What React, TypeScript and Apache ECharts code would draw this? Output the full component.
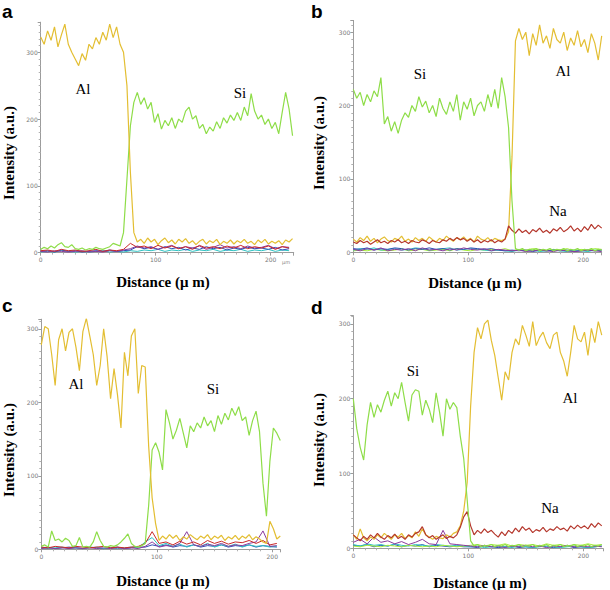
import React, { useEffect, useRef } from "react";
import * as echarts from "echarts";

// ---- sampling steps (µm) ----
const STEP_MAIN = 3;
const STEP_MINOR = 6;

// ---- Panel a ----
const A_AL = [323,312,332,318,338,308,326,342,312,300, 290,280,298,288,312,305,322,312,330,318, 342,322,338,312,300,250,120,30,16,20, 14,22,16,20,12,18,22,15,19,13, 20,16,21,14,18,12,17,20,13,18, 15,20,12,17,14,19,13,18,15,20, 14,17,12,19,15,20,13,17,14,18, 12,19,16,21];
const A_SI = [5,8,6,10,7,12,15,9,8,12, 6,5,7,4,6,5,8,6,5,7, 9,14,12,10,30,110,190,225,240,222, 232,215,225,195,208,185,198,190,202,186, 200,195,212,218,200,205,186,192,178,188, 182,196,186,202,194,206,198,210,198,218, 205,238,212,200,206,192,200,186,195,178, 210,240,215,175];
const A_RED = [3,4,2,5,3,4,2,3,5,2, 4,3,5,14,8,10,6,11,7,10, 6,9,5,11,7,9,6,10,7,11, 6,9,7,10,5,9,7];
const A_BLUE = [2,3,1,4,2,3,1,2,3,2, 4,2,3,4,9,6,8,5,9,6, 8,4,7,5,9,6,8,4,7,5, 8,6,7,5,8,4,6];
const A_CYAN = [1,2,1,3,2,1,2,1,2,3, 1,2,1,3,2,4,3,5,2,4, 3,5,2,4,3,5,2,4,3,5, 2,4,3,5,2,4,3];
const A_PURPLE = [2,1,3,2,1,2,3,1,2,1, 3,2,4,6,10,7,9,5,8,11, 6,9,7,10,5,8,12,7,9,6, 10,7,8,11,6,9,8];

// ---- Panel b ----
const B_SI = [222,210,218,200,215,205,220,212,238,175, 185,165,178,162,180,190,184,200,192,212, 198,206,190,200,185,210,196,188,205,192, 215,180,205,195,210,186,200,205,192,215, 198,222,196,238,212,170,70,5,3,5, 2,4,3,5,2,4,3,5,2,4, 3,5,2,4,3,5,2,4,3,5, 2,4,3];
const B_AL = [18,14,20,16,22,15,19,13,18,21, 16,14,19,17,22,15,18,14,20,16, 19,15,21,17,14,19,16,22,18,15, 20,17,21,16,19,14,22,18,16,20, 15,19,17,16,18, 28,130,288,305,290, 300,268,298,282,310,285,295,278,305,290, 285,300,275,292,282,302,280,290,272,298, 285,262,295];
const B_NA = [14,12,16,13,15,11,14,17,13,15, 12,16,14,17,13,15,12,16,14,13, 17,15,12,16,14,13,17,15,19,16, 20,17,19,15,18,14,17,13,16,14, 17,13,16,14,18,36,30,26,32,27, 30,25,31,28,33,27,30,26,32,29, 34,28,31,36,29,33,28,35,30,38, 32,37,33];
const B_BLUE = [5,4,6,3,5,4,6,5,3,5, 4,6,4,5,3,5,4,6,5,4, 5,3,2,3,2,3,1,3,2,3, 2,3,1,2,3,2,3];
const B_CYAN = [3,5,4,6,3,4,5,3,4,6, 5,3,4,5,6,3,4,5,4,3, 2,3,2,1,3,2,3,1,2,3, 2,1,3,2,1,3,2];
const B_LGREEN = [2,3,2,4,3,2,3,5,2,3, 4,2,3,4,2,5,3,2,4,3, 4,3,5,2,4,3,5,4,2,4, 3,5,2,4,3,5,4];
const B_PURPLE = [4,2,5,3,6,2,4,3,5,2, 6,3,4,2,5,3,6,4,3,5, 2,4,3,2,3,1,2,3,2,1, 3,2,1,2,3,2,1];

// ---- Panel c ----
const C_SI = [4,6,3,25,12,14,10,15,12,4, 5,16,3,4,3,10,24,12,4,3, 5,4,6,10,15,21,8,4,3,5, 8,60,135,145,132,108,190,172,150,162, 178,158,138,168,160,172,165,180,168,175, 160,182,170,185,176,192,182,194,175,180, 155,175,188,160,90,45,120,165,158,148];
const C_AL = [278,303,300,265,223,285,300,270,295,300, 275,243,296,314,290,265,223,250,300,262, 205,246,210,165,268,236,290,300,212,250, 248,140,70,35,12,18,14,20,15,19, 12,17,14,20,16,13,18,15,20,13, 18,15,19,12,17,14,19,13,18,15, 20,13,17,14,10,8,38,28,14,18];
const C_RED = [3,2,4,3,2,4,3,2,3,4, 2,3,2,3,4,8,24,8,10,6, 11,7,10,6,12,8,11,7,10,9, 12,8,12,6,8];
const C_PURPLE = [1,2,1,2,1,2,1,2,1,2, 1,2,1,2,1,4,10,3,5,4, 8,24,6,4,7,5,8,4,6,5, 8,10,25,4,5];
const C_CYAN = [2,1,2,3,1,2,1,2,3,1, 2,1,2,3,2,10,16,5,8,4, 7,3,6,4,8,3,6,4,7,3, 6,4,5,3,4];
const C_BLUE = [2,3,1,2,3,2,1,3,2,1, 2,3,1,2,3,3,6,4,6,3, 5,4,6,3,5,4,6,3,5,4, 6,3,5,4,3];

// ---- Panel d ----
const D_SI = [200,160,135,118,165,195,175,192,182,198, 210,190,208,200,222,195,170,205,212,210, 178,198,186,168,208,182,150,200,186,195, 188,150,120,65,10,3,5,2,4,3, 5,2,4,3,5,2,4,3,5,2, 4,3,5,2,4,3,5,2,4,3, 5,2,4,3,5,2,4,3,5,2, 4,3,5];
const D_AL = [18,12,26,14,10,15,12,18,14,20, 16,12,18,15,20,13,17,14,22,16, 26,18,15,12,16,14,13,18,15,20, 22,30,50,88,190,262,295,280,300,305, 278,258,228,198,236,225,262,280,272,298, 285,270,303,271,282,289,275,267,285,289, 262,250,230,262,298,280,276,289,258,294, 275,303,285];
const D_NA = [18,14,10,16,12,18,14,20,15,12, 17,14,19,13,16,12,18,15,20,22, 29,18,14,17,12,15,18,13,16,14, 18,28,42,49,30,18,24,20,26,21, 24,19,15,22,17,24,20,27,22,29, 24,27,21,25,23,28,22,26,24,29, 25,27,23,30,26,31,27,30,26,33, 28,34,30];
const D_PURPLE = [8,12,6,15,8,10,6,9,5,8, 12,6,5,24,6,5,4,3,2,4, 2,3,1,3,2,4,2,3,1,3, 2,4,2,3,2,3,2];
const D_CYAN = [5,3,6,4,5,3,6,4,3,5, 4,3,5,4,3,4,3,2,3,1, 2,3,2,1,3,2,1,2,3,2, 1,2,3,2,1,2,3];
const D_LGREEN = [3,2,4,3,2,4,3,2,4,3, 2,3,2,4,3,2,3,4,5,3, 5,4,6,3,5,4,5,3,6,4, 5,3,5,4,6,4,5];
const D_BLUE = [4,3,5,2,4,3,5,2,4,3, 5,2,4,3,2,3,2,2,1,3, 2,1,2,3,1,2,1,3,2,1, 2,3,1,2,1,2,3];

const Y_TICKS = ["0", "100", "200", "300"];

const COL = {
  al: "#E3BE32",
  si: "#8EDD48",
  na: "#B5372C",
  red: "#C92A2A",
  blue: "#2F4DB5",
  cyan: "#2EC2C2",
  purple: "#8A3B9D",
  lgreen: "#A6EE3A",
};

const pairs = (vals: number[], step: number) => vals.map((v, i) => [i * step, v]);

type Panel = {
  grid: { left: number; top: number; width: number; height: number };
  xMax: number;
  yMax: number;
  series: { data: number[]; step: number; color: string; width: number }[];
};

const PANELS: Panel[] = [
  {
    grid: { left: 40.7, top: 22.2, width: 253, height: 230.5 },
    xMax: 220,
    yMax: 345,
    series: [
      { data: A_CYAN, step: STEP_MINOR, color: COL.cyan, width: 1 },
      { data: A_BLUE, step: STEP_MINOR, color: COL.blue, width: 1 },
      { data: A_PURPLE, step: STEP_MINOR, color: COL.purple, width: 1 },
      { data: A_RED, step: STEP_MINOR, color: COL.red, width: 1 },
      { data: A_SI, step: STEP_MAIN, color: COL.si, width: 1.2 },
      { data: A_AL, step: STEP_MAIN, color: COL.al, width: 1.2 },
    ],
  },
  {
    grid: { left: 353.3, top: 20.4, width: 248.4, height: 231.9 },
    xMax: 216,
    yMax: 316,
    series: [
      { data: B_LGREEN, step: STEP_MINOR, color: COL.lgreen, width: 1 },
      { data: B_CYAN, step: STEP_MINOR, color: COL.cyan, width: 1 },
      { data: B_BLUE, step: STEP_MINOR, color: COL.blue, width: 1 },
      { data: B_PURPLE, step: STEP_MINOR, color: COL.purple, width: 1 },
      { data: B_AL, step: STEP_MAIN, color: COL.al, width: 1.2 },
      { data: B_NA, step: STEP_MAIN, color: COL.na, width: 1.2 },
      { data: B_SI, step: STEP_MAIN, color: COL.si, width: 1.2 },
    ],
  },
  {
    grid: { left: 41.3, top: 319.2, width: 239, height: 230.1 },
    xMax: 207,
    yMax: 313,
    series: [
      { data: C_BLUE, step: STEP_MINOR, color: COL.blue, width: 1 },
      { data: C_CYAN, step: STEP_MINOR, color: COL.cyan, width: 1 },
      { data: C_PURPLE, step: STEP_MINOR, color: COL.purple, width: 1 },
      { data: C_RED, step: STEP_MINOR, color: COL.red, width: 1 },
      { data: C_SI, step: STEP_MAIN, color: COL.si, width: 1.2 },
      { data: C_AL, step: STEP_MAIN, color: COL.al, width: 1.2 },
    ],
  },
  {
    grid: { left: 353.3, top: 315.7, width: 249.6, height: 232.6 },
    xMax: 217,
    yMax: 311,
    series: [
      { data: D_BLUE, step: STEP_MINOR, color: COL.blue, width: 1 },
      { data: D_CYAN, step: STEP_MINOR, color: COL.cyan, width: 1 },
      { data: D_LGREEN, step: STEP_MINOR, color: COL.lgreen, width: 1 },
      { data: D_PURPLE, step: STEP_MINOR, color: COL.purple, width: 1 },
      { data: D_AL, step: STEP_MAIN, color: COL.al, width: 1.2 },
      { data: D_NA, step: STEP_MAIN, color: COL.na, width: 1.2 },
      { data: D_SI, step: STEP_MAIN, color: COL.si, width: 1.2 },
    ],
  },
];

const LABELS = [
  { text: "Al", x: 83, y: 89 },
  { text: "Si", x: 240, y: 93 },
  { text: "Si", x: 420, y: 74 },
  { text: "Al", x: 563, y: 71 },
  { text: "Na", x: 558, y: 211 },
  { text: "Al", x: 76, y: 384 },
  { text: "Si", x: 213, y: 389 },
  { text: "Si", x: 413, y: 371 },
  { text: "Al", x: 570, y: 398 },
  { text: "Na", x: 550, y: 508 },
];

const LETTERS = [
  { text: "a", x: 2, y: 11 },
  { text: "b", x: 311, y: 11 },
  { text: "c", x: 2, y: 305 },
  { text: "d", x: 311, y: 307 },
];

const Y_TITLES = [
  { x: 9, y: 153 },
  { x: 319, y: 143 },
  { x: 9, y: 450 },
  { x: 319, y: 440 },
];
const X_TITLES = [
  { x: 163, y: 282 },
  { x: 475, y: 283 },
  { x: 163, y: 581 },
  { x: 480, y: 583 },
];

export default function App() {
  const ref = useRef<HTMLDivElement>(null);
  useEffect(() => {
    document.body.style.margin = "0";
    if (!ref.current) return;
    const chart = echarts.init(ref.current, null, { renderer: "svg" });
    const grids = PANELS.map((p) => ({ ...p.grid, containLabel: false }));
    const axisCommon = {
      type: "value",
      min: 0,
      interval: 100,
      axisLine: { show: true, onZero: false, lineStyle: { color: "#9c9c9c", width: 1 } },
      axisTick: { show: true, length: 3, lineStyle: { color: "#9c9c9c" } },
      minorTick: { show: true, splitNumber: 10, length: 2, lineStyle: { color: "#b0b0b0" } },
      splitLine: { show: false },
      axisLabel: { fontSize: 6, color: "#7a7a7a", margin: 3, showMaxLabel: false, fontFamily: "DejaVu Sans" },
    };
    const xAxes = PANELS.map((p, i) => ({ ...axisCommon, gridIndex: i, max: p.xMax, axisLabel: { ...axisCommon.axisLabel, margin: 4 } }));
    const yAxes = PANELS.map((p, i) => ({
      ...axisCommon,
      gridIndex: i,
      max: p.yMax,
      axisLabel: { ...axisCommon.axisLabel, formatter: (v: number) => (Y_TICKS.includes(String(v)) ? String(v) : "") },
    }));
    const series: any[] = [];
    PANELS.forEach((p, i) => {
      p.series.forEach((s) => {
        series.push({
          type: "line",
          xAxisIndex: i,
          yAxisIndex: i,
          data: pairs(s.data, s.step),
          showSymbol: false,
          symbol: "none",
          lineStyle: { color: s.color, width: s.width },
          itemStyle: { color: s.color },
          silent: true,
        });
      });
    });
    const graphic: any[] = [];
    LABELS.forEach((l) =>
      graphic.push({
        type: "text",
        x: l.x,
        y: l.y,
        style: { text: l.text, fill: "#000", font: "15px 'Liberation Serif'", align: "center", verticalAlign: "middle" },
      })
    );
    LETTERS.forEach((l) =>
      graphic.push({
        type: "text",
        x: l.x,
        y: l.y,
        style: { text: l.text, fill: "#000", font: "bold 19px 'Liberation Sans'", align: "left", verticalAlign: "middle" },
      })
    );
    Y_TITLES.forEach((t) =>
      graphic.push({
        type: "text",
        x: t.x,
        y: t.y,
        rotation: Math.PI / 2,
        style: { text: "Intensity (a.u.)", fill: "#000", font: "bold 15px 'Liberation Serif'", align: "center", verticalAlign: "middle" },
      })
    );
    X_TITLES.forEach((t) =>
      graphic.push({
        type: "text",
        x: t.x,
        y: t.y,
        style: { text: "Distance (\u03bc m)", fill: "#000", font: "bold 15px 'Liberation Serif'", align: "center", verticalAlign: "middle" },
      })
    );
    graphic.push({
      type: "text",
      x: 286,
      y: 262,
      style: { text: "\u03bcm", fill: "#888", font: "5px 'DejaVu Sans'", align: "center", verticalAlign: "middle" },
    });
    chart.setOption({
      animation: false,
      backgroundColor: "#ffffff",
      grid: grids,
      xAxis: xAxes,
      yAxis: yAxes,
      series,
      graphic,
    });
    return () => chart.dispose();
  }, []);
  return <div ref={ref} style={{ width: 610, height: 590 }} />;
}
